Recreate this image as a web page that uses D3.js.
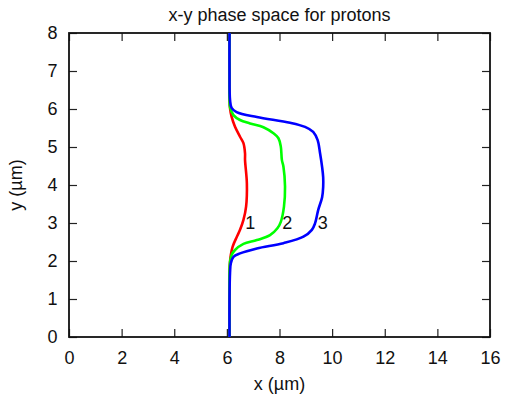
<!DOCTYPE html>
<html>
<head>
<meta charset="utf-8">
<script src="https://cdn.jsdelivr.net/npm/d3@7"></script>
<style>
  html, body { margin: 0; padding: 0; background: #fff; }
  svg { display: block; }
  text { font-family: "Liberation Sans", Arial, sans-serif; fill: #111; }
</style>
</head>
<body>
<svg id="chart" width="505" height="400"></svg>
<script>
// ---- data ----
const title = "x-y phase space for protons";
const xLabel = "x (\u00b5m)";
const yLabel = "y (\u00b5m)";
const xTicks = [0, 2, 4, 6, 8, 10, 12, 14, 16];
const yTicks = [0, 1, 2, 3, 4, 5, 6, 7, 8];

const redY = [0, 1.0, 1.7, 1.98, 2.16, 2.38, 2.64, 2.82, 3.08, 3.43, 4.04, 4.66, 4.83, 5.1, 5.27, 5.53, 5.8, 6.02, 6.3, 7.0, 8.0];
const redX = [6.1, 6.1, 6.1, 6.12, 6.15, 6.22, 6.38, 6.5, 6.63, 6.73, 6.76, 6.69, 6.69, 6.63, 6.5, 6.31, 6.18, 6.12, 6.1, 6.1, 6.1];

const greenY = [0, 1.0, 1.7, 1.98, 2.16, 2.29, 2.45, 2.55, 2.68, 2.86, 3.03, 3.43, 3.96, 4.48, 4.66, 5.01, 5.23, 5.36, 5.52, 5.62, 5.71, 5.84, 6.05, 6.3, 7.0, 8.0];
const greenX = [6.1, 6.1, 6.1, 6.12, 6.18, 6.31, 6.63, 7.14, 7.64, 7.92, 8.05, 8.17, 8.21, 8.15, 8.09, 8.05, 7.96, 7.77, 7.39, 6.88, 6.5, 6.25, 6.12, 6.1, 6.1, 6.1];

const blueY = [0, 1.0, 1.7, 1.94, 2.11, 2.2, 2.33, 2.47, 2.64, 2.82, 2.99, 3.34, 3.68, 3.95, 4.2, 4.47, 4.84, 5.18, 5.4, 5.53, 5.64, 5.79, 5.92, 6.03, 6.24, 7.0, 8.0];
const blueX = [6.1, 6.1, 6.12, 6.15, 6.25, 6.5, 7.14, 8.15, 8.91, 9.23, 9.35, 9.47, 9.62, 9.66, 9.66, 9.62, 9.54, 9.45, 9.28, 8.97, 8.4, 7.14, 6.37, 6.18, 6.12, 6.1, 6.1];

const seriesNames = ["1", "2", "3"];
const seriesColors = ["#ff0000", "#00ff00", "#0000ff"];
const labelX = [6.7, 8.1, 9.45];
const labelY = [3, 3, 3];

// ---- layout ----
const svg = d3.select("#chart");
const L = 69, R = 490, T = 33, B = 337;
const x = d3.scaleLinear().domain([0, 16]).range([L, R]);
const y = d3.scaleLinear().domain([0, 8]).range([B, T]);
const tickLen = 8;
const fontSize = 18;

function styleAxis(g) {
  g.select(".domain").remove();
  g.selectAll(".tick line").attr("stroke", "#222").attr("stroke-width", 1.2);
  g.selectAll(".tick text").attr("font-size", fontSize + "px").attr("fill", "#111")
    .attr("font-family", "Liberation Sans, Arial, sans-serif");
}

// bottom
svg.append("g").attr("transform", `translate(0,${B})`)
  .call(d3.axisBottom(x).tickValues(xTicks).tickFormat(d3.format("d")).tickSizeInner(-tickLen).tickSizeOuter(0).tickPadding(14))
  .call(styleAxis);
// top (mirror)
svg.append("g").attr("transform", `translate(0,${T})`)
  .call(d3.axisTop(x).tickValues(xTicks).tickFormat("").tickSizeInner(-tickLen).tickSizeOuter(0))
  .call(styleAxis);
// left
svg.append("g").attr("transform", `translate(${L},0)`)
  .call(d3.axisLeft(y).tickValues(yTicks).tickFormat(d3.format("d")).tickSizeInner(-tickLen).tickSizeOuter(0).tickPadding(11.5))
  .call(styleAxis);
// right (mirror)
svg.append("g").attr("transform", `translate(${R},0)`)
  .call(d3.axisRight(y).tickValues(yTicks).tickFormat("").tickSizeInner(-tickLen).tickSizeOuter(0))
  .call(styleAxis);

// frame
svg.append("rect").attr("x", L).attr("y", T).attr("width", R - L).attr("height", B - T)
  .attr("fill", "none").attr("stroke", "#111").attr("stroke-width", 1.8);

// curves
const seriesData = [
  redX.map((v, i) => ({ x: v, y: redY[i] })),
  greenX.map((v, i) => ({ x: v, y: greenY[i] })),
  blueX.map((v, i) => ({ x: v, y: blueY[i] }))
];
const line = d3.line().x(d => x(d.x)).y(d => y(d.y)).curve(d3.curveCatmullRom.alpha(0.5));
seriesData.forEach((pts, i) => {
  svg.append("path").datum(pts).attr("d", line)
    .attr("fill", "none").attr("stroke", seriesColors[i]).attr("stroke-width", 2.6)
    .attr("stroke-linejoin", "round").attr("stroke-linecap", "butt");
});

// curve labels
seriesNames.forEach((n, i) => {
  svg.append("text").attr("x", x(labelX[i])).attr("y", y(labelY[i]))
    .attr("dy", "0.36em").attr("font-size", fontSize + "px").text(n);
});

// title
svg.append("text").attr("x", (L + R) / 2).attr("y", 21).attr("text-anchor", "middle")
  .attr("font-size", fontSize + "px").text(title);
// x label
svg.append("text").attr("x", (L + R) / 2).attr("y", 390).attr("text-anchor", "middle")
  .attr("font-size", fontSize + "px").text(xLabel);
// y label
svg.append("text").attr("transform", `translate(22,${(T + B) / 2}) rotate(-90)`)
  .attr("text-anchor", "middle").attr("font-size", fontSize + "px").text(yLabel);
</script>
</body>
</html>
